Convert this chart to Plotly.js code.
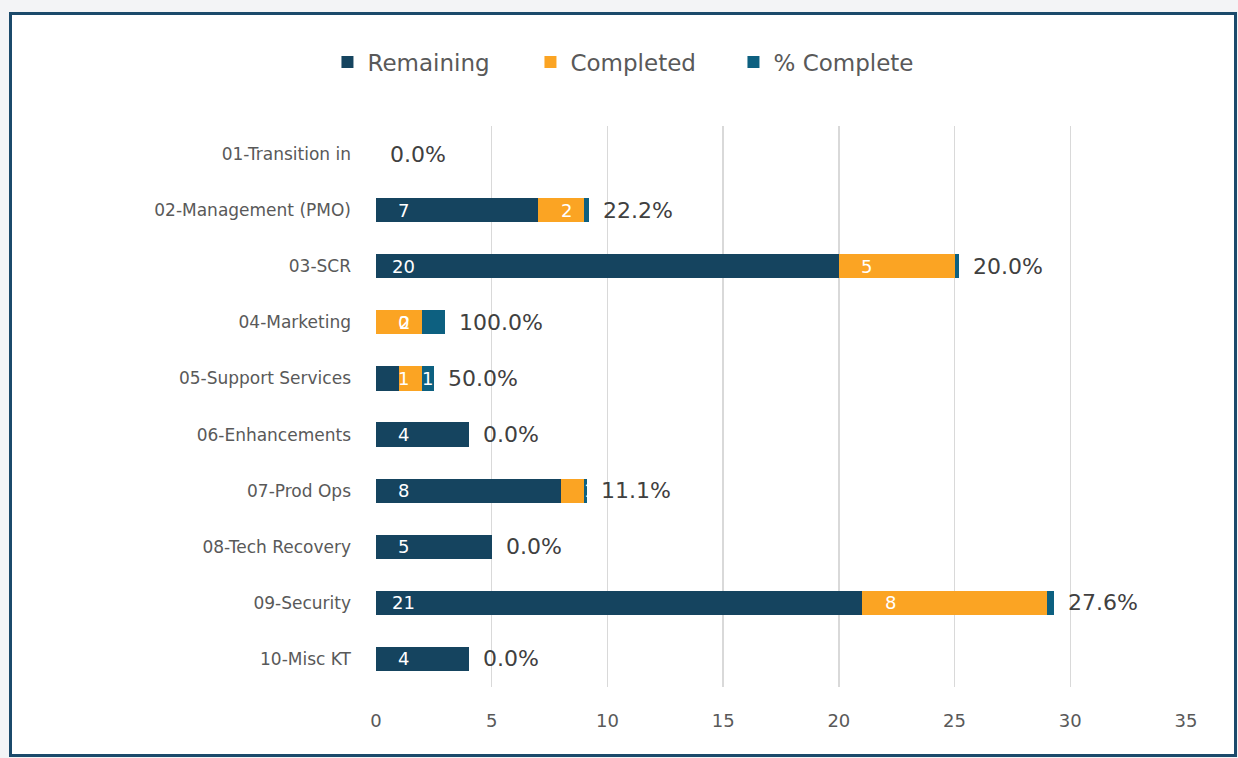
<!DOCTYPE html>
<html>
<head>
<meta charset="utf-8">
<script src="https://cdn.plot.ly/plotly-3.0.1.min.js"></script>
<style>
  html, body { margin: 0; padding: 0; background: #f3f4f6; width: 1238px; height: 758px; overflow: hidden; }
  #frame { position: absolute; left: 9px; top: 12px; width: 1228px; height: 745px; box-sizing: border-box;
           border: 3px solid #1b4a6b; background: #ffffff; }
  #chart { position: absolute; left: 12px; top: 15px; width: 1222px; height: 739px; }
</style>
</head>
<body>
<div id="frame"></div>
<div id="chart"></div>
<script>
const categories = ["01-Transition in", "02-Management (PMO)", "03-SCR", "04-Marketing",
  "05-Support Services", "06-Enhancements", "07-Prod Ops", "08-Tech Recovery", "09-Security", "10-Misc KT"];
const remaining = [0, 7, 20, 0, 1, 4, 8, 5, 21, 4];
const completed = [0, 2, 5, 2, 1, 0, 1, 0, 8, 0];
const pctComplete = [0.0, 0.222, 0.200, 1.000, 0.500, 0.0, 0.111, 0.0, 0.276, 0.0];
const xTicks = [0, 5, 10, 15, 20, 25, 30, 35];

const FONT = "'DejaVu Sans', 'Noto Sans', sans-serif";
const cRem = "#15445f", cComp = "#fba423", cPct = "#0d6080";

const traces = [
  { type: "bar", orientation: "h", name: "Remaining", y: categories, x: remaining,
    marker: { color: cRem }, hoverinfo: "x+y" },
  { type: "bar", orientation: "h", name: "Completed", y: categories, x: completed,
    marker: { color: cComp }, hoverinfo: "x+y" },
  { type: "bar", orientation: "h", name: "% Complete", y: categories, x: pctComplete,
    marker: { color: cPct }, hoverinfo: "x+y" }
];

const annotations = [];
// white in-bar labels (positioned near segment start, like the source)
categories.forEach((c, i) => {
  const total = remaining[i] + completed[i];
  if (total > 0) {
    annotations.push({ x: 0, y: c, xref: "x", yref: "y", text: String(remaining[i]),
      showarrow: false, xanchor: "center", xshift: 27,
      font: { family: FONT, size: 18, color: "#ffffff" } });
    if (completed[i] > 0) {
      annotations.push({ x: remaining[i], y: c, xref: "x", yref: "y", text: String(completed[i]),
        showarrow: false, xanchor: "center", xshift: 28,
        font: { family: FONT, size: 18, color: "#ffffff" } });
    }
  }
});
// percentage labels outside end
categories.forEach((c, i) => {
  const end = remaining[i] + completed[i] + pctComplete[i];
  annotations.push({ x: end, y: c, xref: "x", yref: "y", text: (pctComplete[i] * 100).toFixed(1) + "%",
    showarrow: false, xanchor: "left", xshift: 12,
    font: { family: FONT, size: 22, color: "#404040" } });
});

const layout = {
  width: 1222, height: 739,
  paper_bgcolor: "rgba(0,0,0,0)", plot_bgcolor: "#ffffff",
  barmode: "stack", bargap: 0.57,
  margin: { l: 364, r: 48, t: 111, b: 67 },
  font: { family: FONT, color: "#595959" },
  showlegend: true,
  legend: { orientation: "h", x: 0.316, xanchor: "center", y: 1.114, yanchor: "middle",
    yref: "paper", xref: "paper", entrywidth: 158, entrywidthmode: "pixels",
    font: { family: FONT, size: 23, color: "#595959" }, traceorder: "normal" },
  xaxis: { range: [0, 35], tickvals: xTicks, ticktext: xTicks.map(String), showgrid: true,
    gridcolor: "#d9d9d9", gridwidth: 1.5, zeroline: false, showline: false, ticks: "",
    ticklabelstandoff: 21,
    tickfont: { family: FONT, size: 18, color: "#595959" }, fixedrange: true },
  yaxis: { autorange: "reversed", type: "category", showgrid: false, zeroline: false, ticks: "",
    showline: false, ticklabelstandoff: 24,
    tickfont: { family: FONT, size: 17, color: "#595959" }, fixedrange: true },
  annotations: annotations
};

Plotly.newPlot("chart", traces, layout, { displayModeBar: false, staticPlot: true });
</script>
</body>
</html>
